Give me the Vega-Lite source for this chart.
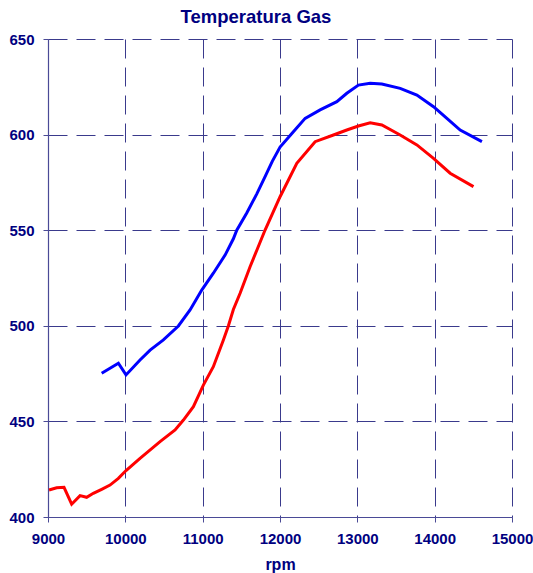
{
  "$schema": "https://vega.github.io/schema/vega-lite/v6.json",
  "autosize": {"type": "none"},
  "padding": {"left": 48, "top": 39, "right": 21, "bottom": 56},
  "width": 464,
  "height": 478,
  "background": "white",
  "title": {
    "text": "Temperatura Gas",
    "font": "Liberation Sans",
    "fontSize": 18.5,
    "fontWeight": "bold",
    "color": "#000080",
    "anchor": "middle",
    "dx": -24,
    "baseline": "alphabetic",
    "offset": -9
  },
  "config": {
    "view": {"stroke": null},
    "axis": {
      "labelFont": "Liberation Sans",
      "labelFontSize": 15,
      "labelFontWeight": "bold",
      "labelColor": "#000080",
      "titleFont": "Liberation Sans",
      "titleFontSize": 16,
      "titleFontWeight": "bold",
      "titleColor": "#000080",
      "domainColor": "#4a4a96",
      "domainWidth": 1.2,
      "tickColor": "#4a4a96",
      "tickSize": 5,
      "gridColor": "#3a3a8c",
      "gridWidth": 1,
      "gridDash": [19, 9],
      "gridOpacity": 1
    }
  },
  "data": {
    "values": [
      {"series": "A", "rpm": 9694, "temp": 475.2},
      {"series": "A", "rpm": 9910, "temp": 480.4},
      {"series": "A", "rpm": 10009, "temp": 474.3},
      {"series": "A", "rpm": 10190, "temp": 482.1},
      {"series": "A", "rpm": 10320, "temp": 487.3},
      {"series": "A", "rpm": 10492, "temp": 492.6},
      {"series": "A", "rpm": 10686, "temp": 499.9},
      {"series": "A", "rpm": 10837, "temp": 508.3},
      {"series": "A", "rpm": 10988, "temp": 518.7},
      {"series": "A", "rpm": 11138, "temp": 527.5},
      {"series": "A", "rpm": 11290, "temp": 537},
      {"series": "A", "rpm": 11397, "temp": 545.5},
      {"series": "A", "rpm": 11441, "temp": 550},
      {"series": "A", "rpm": 11570, "temp": 559},
      {"series": "A", "rpm": 11700, "temp": 569},
      {"series": "A", "rpm": 11807, "temp": 578},
      {"series": "A", "rpm": 11900, "temp": 586},
      {"series": "A", "rpm": 12001, "temp": 593.5},
      {"series": "A", "rpm": 12173, "temp": 601.5},
      {"series": "A", "rpm": 12325, "temp": 608.5},
      {"series": "A", "rpm": 12519, "temp": 612.9},
      {"series": "A", "rpm": 12735, "temp": 617.2},
      {"series": "A", "rpm": 12864, "temp": 621.6},
      {"series": "A", "rpm": 13014, "temp": 625.9},
      {"series": "A", "rpm": 13166, "temp": 626.8},
      {"series": "A", "rpm": 13317, "temp": 626.5},
      {"series": "A", "rpm": 13554, "temp": 624.2},
      {"series": "A", "rpm": 13770, "temp": 620.7},
      {"series": "A", "rpm": 13985, "temp": 614.6},
      {"series": "A", "rpm": 14158, "temp": 608.5},
      {"series": "A", "rpm": 14330, "temp": 602.4},
      {"series": "A", "rpm": 14611, "temp": 596.3},
      {"series": "B", "rpm": 9013, "temp": 414.1},
      {"series": "B", "rpm": 9112, "temp": 415.3},
      {"series": "B", "rpm": 9207, "temp": 415.5},
      {"series": "B", "rpm": 9306, "temp": 406.7},
      {"series": "B", "rpm": 9414, "temp": 411.2},
      {"series": "B", "rpm": 9500, "temp": 410.3},
      {"series": "B", "rpm": 9586, "temp": 412.4},
      {"series": "B", "rpm": 9694, "temp": 414.5},
      {"series": "B", "rpm": 9802, "temp": 416.7},
      {"series": "B", "rpm": 9910, "temp": 420.2},
      {"series": "B", "rpm": 10009, "temp": 424.3},
      {"series": "B", "rpm": 10190, "temp": 430.7},
      {"series": "B", "rpm": 10449, "temp": 439.4},
      {"series": "B", "rpm": 10643, "temp": 445.5},
      {"series": "B", "rpm": 10751, "temp": 450.7},
      {"series": "B", "rpm": 10880, "temp": 457.7},
      {"series": "B", "rpm": 11009, "temp": 469},
      {"series": "B", "rpm": 11138, "temp": 478.6},
      {"series": "B", "rpm": 11268, "temp": 492.6},
      {"series": "B", "rpm": 11333, "temp": 500},
      {"series": "B", "rpm": 11397, "temp": 508.5},
      {"series": "B", "rpm": 11484, "temp": 517},
      {"series": "B", "rpm": 11613, "temp": 530.9},
      {"series": "B", "rpm": 11807, "temp": 550.1},
      {"series": "B", "rpm": 12001, "temp": 567.5},
      {"series": "B", "rpm": 12217, "temp": 585},
      {"series": "B", "rpm": 12454, "temp": 596.3},
      {"series": "B", "rpm": 12691, "temp": 599.8},
      {"series": "B", "rpm": 12864, "temp": 602.4},
      {"series": "B", "rpm": 13014, "temp": 604.5},
      {"series": "B", "rpm": 13166, "temp": 606.2},
      {"series": "B", "rpm": 13317, "temp": 605},
      {"series": "B", "rpm": 13554, "temp": 599.8},
      {"series": "B", "rpm": 13770, "temp": 594.6},
      {"series": "B", "rpm": 13985, "temp": 587.6},
      {"series": "B", "rpm": 14200, "temp": 579.8},
      {"series": "B", "rpm": 14502, "temp": 572.8}
    ]
  },
  "mark": {"type": "line", "strokeWidth": 3, "clip": true},
  "encoding": {
    "x": {
      "field": "rpm",
      "type": "quantitative",
      "scale": {"domain": [9000, 15000], "nice": false, "zero": false},
      "axis": {
        "title": "rpm",
        "values": [9000, 10000, 11000, 12000, 13000, 14000, 15000],
        "format": "d",
        "labelPadding": 9,
        "titlePadding": 10,
        "labelFlush": false,
        "labelOverlap": false
      }
    },
    "y": {
      "field": "temp",
      "type": "quantitative",
      "scale": {"domain": [400, 650], "nice": false, "zero": false},
      "axis": {
        "title": null,
        "values": [400, 450, 500, 550, 600, 650],
        "format": "d",
        "labelPadding": 9
      }
    },
    "color": {
      "field": "series",
      "type": "nominal",
      "scale": {"domain": ["A", "B"], "range": ["#0000ff", "#ff0000"]},
      "legend": null
    }
  }
}
